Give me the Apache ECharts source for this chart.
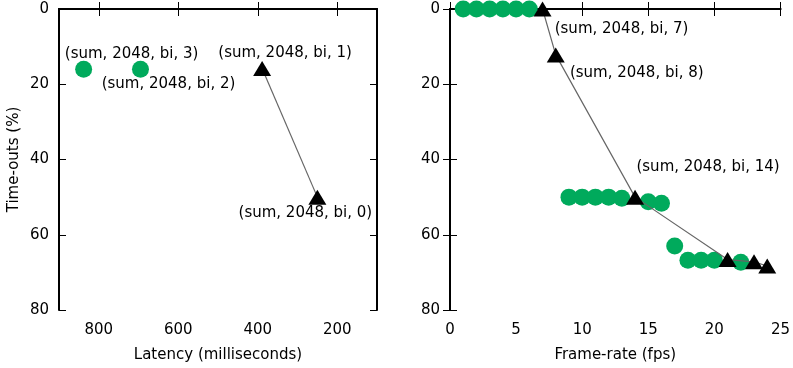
<!DOCTYPE html>
<html><head><meta charset="utf-8">
<script src="https://cdn.jsdelivr.net/npm/echarts@6/dist/echarts.min.js"></script>
<style>html,body{margin:0;padding:0;background:#fff}#c{width:793px;height:368px}</style>
</head><body><div id="c"></div>
<script>
// ---- data ----
const latencyCircles = [[838, 16], [695, 16]];
const latencyCircleLabels = ['(sum, 2048, bi, 3)', '(sum, 2048, bi, 2)'];
const latencyTriangles = [[389, 15.8], [250, 50]];
const latencyTriangleLabels = ['(sum, 2048, bi, 1)', '(sum, 2048, bi, 0)'];

const fpsCircles = [[1,0],[2,0],[3,0],[4,0],[5,0],[6,0],[9,50],[10,50],[11,50],[12,50],[13,50.3],[15,51.2],[16,51.6],[17,63],[18,66.8],[19,66.8],[20,66.8],[22,67.3]];
const fpsTriangles = [[7,0],[8,12.2],[14,50],[21,66.6],[23,67.2],[24,68.3]];
const fpsTriangleLabels = ['(sum, 2048, bi, 7)', '(sum, 2048, bi, 8)', '(sum, 2048, bi, 14)', '', '', ''];

const latencyTicks = [800, 600, 400, 200];
const timeoutTicks = [0, 20, 40, 60, 80];
const fpsTicks = [0, 5, 10, 15, 20, 25];

const yTitle = 'Time-outs (%)';
const xTitleLeft = 'Latency (milliseconds)';
const xTitleRight = 'Frame-rate (fps)';

// ---- chart ----
const GREEN = '#00AA5C';
const FONT = 'DejaVu Sans';
const FS = 15;
const chart = echarts.init(document.getElementById('c'), null, {renderer: 'canvas'});

function withLabels(points, labels, offsets) {
  return points.map((p, i) => {
    const o = {value: p};
    if (labels[i]) {
      o.label = {show: true, formatter: labels[i], position: 'inside', offset: offsets[i],
        color: '#000', fontFamily: FONT, fontSize: FS};
    }
    return o;
  });
}

const axisLine = {show: true, lineStyle: {color: '#000', width: 2}};
const tickStyle = {show: true, inside: true, length: 7, lineStyle: {color: '#000', width: 1}};
const labelStyle = {color: '#000', fontFamily: FONT, fontSize: FS};

function xAx(grid, min, max, ticks, name, inverse, pos, show) {
  return {
    type: 'value', gridIndex: grid, min, max, inverse, position: pos,
    axisLine, splitLine: {show: false},
    axisTick: Object.assign({customValues: ticks}, tickStyle),
    axisLabel: Object.assign({show: show, customValues: ticks, margin: 13}, labelStyle),
    name: show ? name : '', nameLocation: 'middle', nameGap: 38,
    nameTextStyle: {color: '#000', fontFamily: FONT, fontSize: FS}
  };
}
function yAx(grid, name, pos, show) {
  return {
    type: 'value', gridIndex: grid, min: 0, max: timeoutTicks[timeoutTicks.length - 1], interval: 20, inverse: true, position: pos,
    axisLine, splitLine: {show: false},
    axisTick: tickStyle,
    axisLabel: Object.assign({show: show, margin: 10}, labelStyle),
    name: show ? name : '', nameLocation: 'middle', nameGap: 37,
    nameTextStyle: {color: '#000', fontFamily: FONT, fontSize: FS}
  };
}

const option = {
  animation: false,
  backgroundColor: '#fff',
  grid: [
    {left: 59, top: 9, width: 318, height: 304},
    {left: 450, top: 9, width: 332, height: 304}
  ],
  xAxis: [
    xAx(0, 100, 900, latencyTicks, xTitleLeft, true, 'bottom', true),
    xAx(0, 100, 900, latencyTicks, '', true, 'top', false),
    xAx(1, 0, 25, fpsTicks, xTitleRight, false, 'bottom', true),
    xAx(1, 0, 25, fpsTicks, '', false, 'top', false)
  ],
  yAxis: [
    yAx(0, yTitle, 'left', true),
    yAx(0, '', 'right', false),
    yAx(1, '', 'left', true),
    yAx(1, '', 'right', false)
  ],
  series: [
    {type: 'scatter', xAxisIndex: 0, yAxisIndex: 0, symbol: 'circle', symbolSize: 17,
     itemStyle: {color: GREEN, opacity: 1},
     data: withLabels(latencyCircles, latencyCircleLabels, [[48, -15], [28, 15]])},
    {type: 'line', xAxisIndex: 0, yAxisIndex: 0, symbol: 'triangle', symbolSize: [18, 15],
     showAllSymbol: true,
     itemStyle: {color: '#000'}, lineStyle: {color: '#666', width: 1.2},
     data: withLabels(latencyTriangles, latencyTriangleLabels, [[23, -15], [-12, 16]])},
    {type: 'scatter', xAxisIndex: 2, yAxisIndex: 2, symbol: 'circle', symbolSize: 17,
     itemStyle: {color: GREEN, opacity: 1}, data: fpsCircles},
    {type: 'line', xAxisIndex: 2, yAxisIndex: 2, symbol: 'triangle', symbolSize: [18, 15],
     showAllSymbol: true, clip: false,
     itemStyle: {color: '#000'}, lineStyle: {color: '#666', width: 1.2},
     data: withLabels(fpsTriangles, fpsTriangleLabels, [[79, 20], [81, 18], [73, -30], [0,0], [0,0], [0,0]])}
  ]
};
chart.setOption(option);
</script></body></html>
